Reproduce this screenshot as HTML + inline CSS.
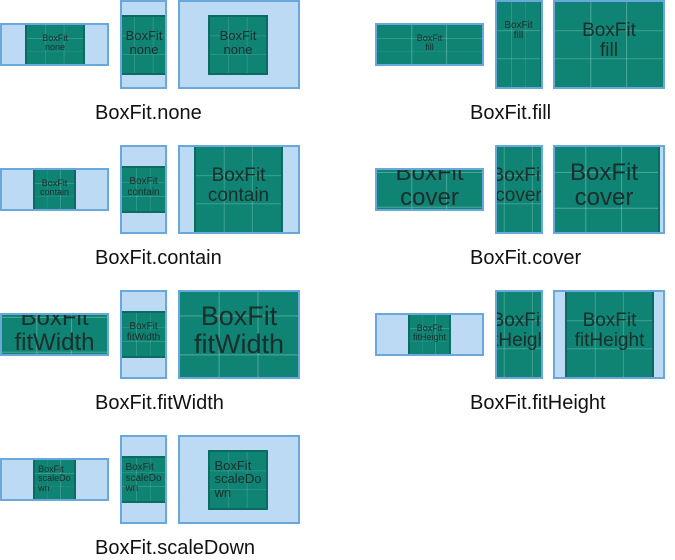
<!DOCTYPE html>
<html><head><meta charset="utf-8"><style>
body{margin:0;width:675px;height:557px;background:#fff;position:relative;overflow:hidden;font-family:"Liberation Sans",sans-serif}
.c{position:absolute;background:#bcdaf3;border:2px solid #6aa8dc;box-sizing:border-box;overflow:hidden}
.i{position:absolute;background-color:#0f8474;border:2px solid #0c6b60;box-sizing:border-box;color:#1a2e2b;line-height:1.05;text-align:center;overflow:hidden;
background-image:linear-gradient(90deg,transparent 32.5%,rgba(180,230,220,.45) 33%,transparent 34%,transparent 65.5%,rgba(180,230,220,.45) 66%,transparent 67%),linear-gradient(0deg,transparent 32.5%,rgba(180,230,220,.45) 33%,transparent 34%,transparent 65.5%,rgba(180,230,220,.45) 66%,transparent 67%)}
.i span{position:absolute;left:0;right:0;top:22%}
.l{position:absolute;font-size:20px;color:#111;width:240px;text-align:left}
</style></head><body>
<script>
var rows=[
 [0,0,"none",[[25,0,60,43],[-6,15,60,60],[30,15,60,60]],"BoxFit<br>none",0],
 [375,0,"fill",[[0,0,109,43],[0,0,47,89],[0,0,112,89]],"BoxFit<br>fill",0],
 [0,145,"contain",[[33,0,43,43],[0,21,47,47],[16,0,89,89]],"BoxFit<br>contain",0],
 [375,145,"cover",[[0,-33,109,109],[-21,0,89,89],[-5,-11,112,112]],"BoxFit<br>cover",0],
 [0,290,"fitWidth",[[0,-33,109,109],[0,21,47,47],[0,-16,122,122]],"BoxFit<br>fitWidth",0],
 [375,290,"fitHeight",[[33,0,43,43],[-21,0,89,89],[12,0,89,89]],"BoxFit<br>fitHeight",0],
 [0,435,"scaleDown",[[33,0,43,43],[0,21,47,47],[30,15,60,60]],"BoxFit<br>scaleDo<br>wn",1]
];
var h="";
rows.forEach(function(r){
 var x=r[0],y=r[1];
 var sq=x? 112:122;
 var cs=[[x,y+23,109,43],[x+120,y,47+(x?1:0),89],[x+178,y,sq,89]];
 cs.forEach(function(c,k){
  var m=r[3][k];var fs=Math.round(Math.min(m[2],m[3])/4.6);
  h+='<div class="c" style="left:'+c[0]+'px;top:'+c[1]+'px;width:'+c[2]+'px;height:'+c[3]+'px"><div class="i" style="left:'+(m[0]-2)+'px;top:'+(m[1]-2)+'px;width:'+m[2]+'px;height:'+m[3]+'px;font-size:'+fs+'px"><span style="'+(r[5]?'top:12%;text-align:left;left:8%':'')+'">'+r[4]+'</span></div></div>';
 });
 h+='<div class="l" style="left:'+(x+95)+'px;top:'+(y+102)+'px">BoxFit.'+r[2]+'</div>';
});
document.write(h);
</script>
</body></html>
